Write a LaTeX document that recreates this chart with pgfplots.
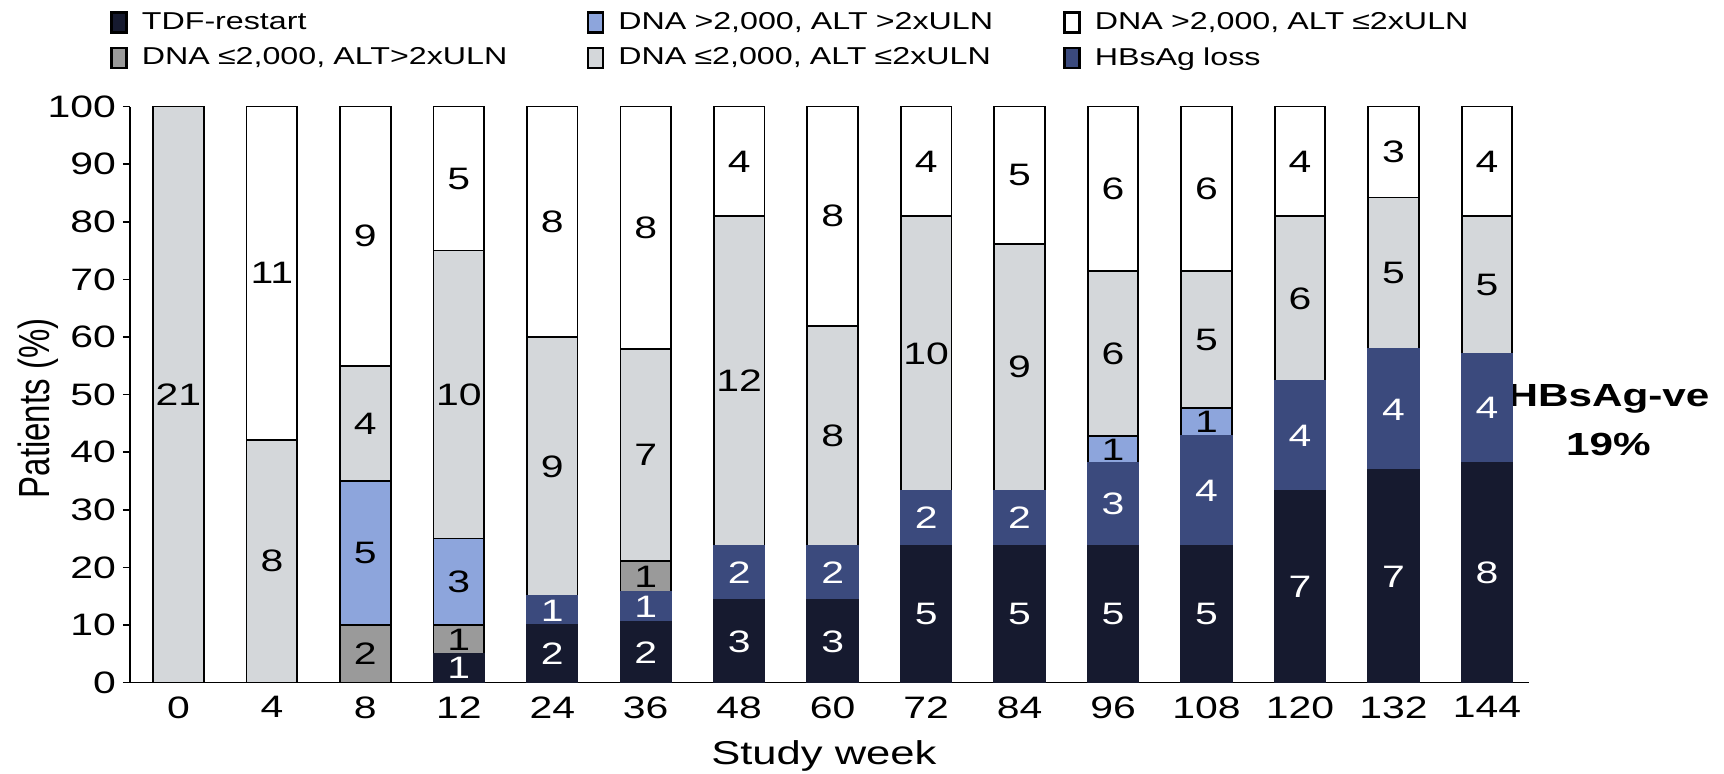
\documentclass[border=0pt]{standalone}
\usepackage{fontspec}
\setmainfont{Liberation Sans}[FakeStretch=1.32]
\newfontfamily\ylfont{Liberation Sans}
\usepackage{pgfplots}
\pgfplotsset{compat=1.18}
\usepackage{pgfplotstable}

\definecolor{ctdf}{HTML}{161A2F}
\definecolor{chbs}{HTML}{3B4A7D}
\definecolor{cblu}{HTML}{8DA5DC}
\definecolor{cgry}{HTML}{9A9A9A}
\definecolor{clgt}{HTML}{D4D7DA}
\definecolor{cwht}{HTML}{FFFFFF}

% percentages (y) and patient counts (n) per category, bottom to top
\pgfplotstableread{
idx tdf   ntdf hbs   nhbs gry  ngry blu  nblu lgt   nlgt wht   nwht
0   0     0    0     0    0    0    0    0    100   21   0     0
1   0     0    0     0    0    0    0    0    42.11 8    57.89 11
2   0     0    0     0    10   2    25   5    20    4    45    9
3   5     1    0     0    5    1    15   3    50    10   25    5
4   10    2    5     1    0    0    0    0    45    9    40    8
5   10.53 2    5.26  1    5.26 1    0    0    36.84 7    42.11 8
6   14.29 3    9.52  2    0    0    0    0    57.14 12   19.05 4
7   14.29 3    9.52  2    0    0    0    0    38.10 8    38.09 8
8   23.81 5    9.52  2    0    0    0    0    47.62 10   19.05 4
9   23.81 5    9.52  2    0    0    0    0    42.86 9    23.81 5
10  23.81 5    14.29 3    0    0    4.76 1    28.57 6    28.57 6
11  23.81 5    19.05 4    0    0    4.76 1    23.81 5    28.57 6
12  33.33 7    19.05 4    0    0    0    0    28.57 6    19.05 4
13  36.84 7    21.05 4    0    0    0    0    26.32 5    15.79 3
14  38.10 8    19.05 4    0    0    0    0    23.81 5    19.04 4
}\datatable

\pgfplotsset{
  mylegend/.style={legend image code/.code={\draw[##1, draw=black, line width=1.1pt] (0pt,-5pt) rectangle (7.5pt,5pt); \path (13pt,0pt);}},
  seg/.style={every node near coord/.append style={text=#1}},
}

\begin{document}
\begin{tikzpicture}
\useasboundingbox (-65pt,-45.5pt) rectangle (797pt,341.3pt);
\begin{axis}[
  at={(0,0)}, anchor=south west,
  scale only axis, width=699.5pt, height=288pt,
  ybar stacked, bar width=25.3pt,
  xmin=-0.518, xmax=14.45, ymin=0, ymax=100, enlargelimits=false,
  clip=false,
  axis x line*=bottom, axis y line*=left,
  axis line style={line width=0.8pt, -},
  xtick={0,...,14},
  xticklabels={0,4,8,12,24,36,48,60,72,84,96,108,120,132,144},
  x tick style={draw=none},
  ytick={0,10,...,100},
  tick align=outside, major tick length=3.5pt,
  y tick style={line width=0.8pt, black},
  tick label style={font=\fontsize{15.5}{17}\selectfont},
  /pgf/number format/assume math mode=true,
  xlabel={Study week},
  xlabel style={at={(axis description cs:0.496,-0.1267)}, anchor=center, font=\fontsize{16.5}{18}\selectfont},
  ylabel={\scalebox{1}[1.32]{\ylfont\fontsize{16.5}{18}\selectfont Patients (\%)}},
  ylabel style={at={(axis description cs:-0.0653,0.476)}, anchor=center},
  point meta=explicit symbolic,
  nodes near coords={\ifnum\pgfplotspointmeta=0 \else\pgfplotspointmeta\fi},
  every node near coord/.append style={anchor=center, font=\fontsize{15.5}{17}\selectfont},
  legend columns=3,
  legend cell align=left,
  legend style={at={(axis description cs:0,1)}, anchor=west, xshift=-10pt, yshift=33.1pt,
    draw=none, fill=none, inner sep=0pt, row sep=3.5pt,
    font=\fontsize{12.2}{13.5}\selectfont,
    /tikz/every even column/.append style={text width=220.5pt}},
]
\addlegendimage{mylegend, fill=ctdf}\addlegendentry{TDF-restart}
\addlegendimage{mylegend, fill=cblu}\addlegendentry{DNA >2,000, ALT >2xULN}
\addlegendimage{mylegend, fill=cwht}\addlegendentry{DNA >2,000, ALT ≤2xULN}
\addlegendimage{mylegend, fill=cgry}\addlegendentry{DNA ≤2,000, ALT>2xULN}
\addlegendimage{mylegend, fill=clgt}\addlegendentry{DNA ≤2,000, ALT ≤2xULN}
\addlegendimage{mylegend, fill=chbs}\addlegendentry{HBsAg loss}

\addplot[fill=ctdf, draw=ctdf, line width=0.9pt, seg=white, forget plot] table[x=idx, y=tdf, meta=ntdf] \datatable;
\addplot[fill=chbs, draw=chbs, line width=0.9pt, seg=white, forget plot] table[x=idx, y=hbs, meta=nhbs] \datatable;
\addplot[fill=cgry, draw=black, line width=0.9pt, seg=black, forget plot] table[x=idx, y=gry, meta=ngry] \datatable;
\addplot[fill=cblu, draw=black, line width=0.9pt, seg=black, forget plot] table[x=idx, y=blu, meta=nblu] \datatable;
\addplot[fill=clgt, draw=black, line width=0.9pt, seg=black, forget plot] table[x=idx, y=lgt, meta=nlgt] \datatable;
\addplot[fill=cwht, draw=black, line width=0.9pt, seg=black, forget plot] table[x=idx, y=wht, meta=nwht] \datatable;

\node[font=\bfseries\fontsize{16}{24.5}\selectfont, align=center] at (axis cs:15.3,45.5) {HBsAg-ve\\19\%};
\end{axis}
\end{tikzpicture}
\end{document}
